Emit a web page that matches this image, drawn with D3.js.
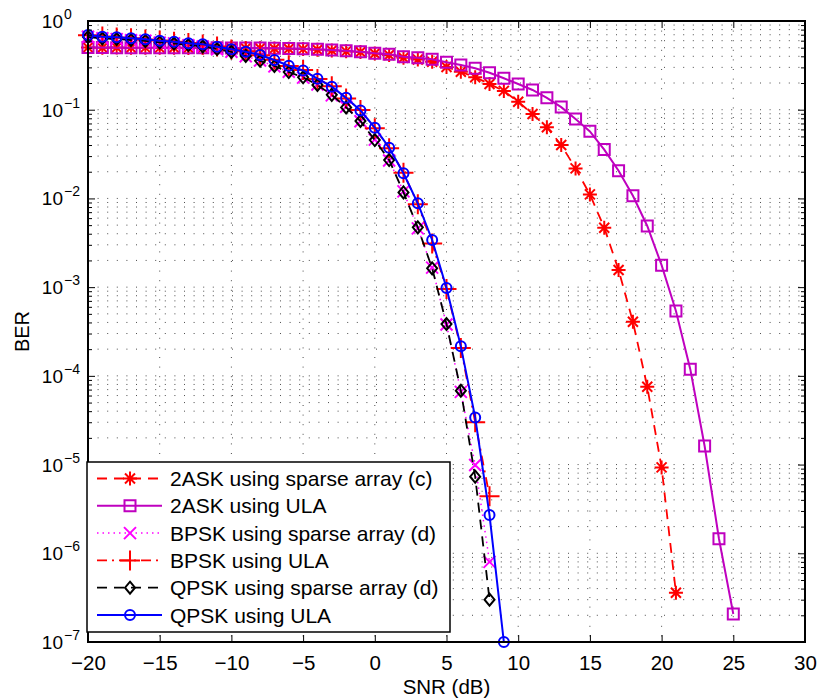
<!DOCTYPE html>
<html>
<head>
<meta charset="utf-8">
<script src="https://cdn.jsdelivr.net/npm/d3@7"></script>
<style>
  body { margin: 0; background: #fff; }
  svg { font-family: "Liberation Sans", Arial, Helvetica, sans-serif; }
</style>
</head>
<body>
<svg id="chart" width="820" height="700"></svg>
<script>
// ---- data ----
const snrAskSparse = d3.range(-20, 22);
const berAskSparse = [0.502, 0.500, 0.503, 0.499, 0.501, 0.498, 0.500, 0.497, 0.499, 0.496,
  0.497, 0.494, 0.493, 0.490, 0.486, 0.482, 0.475, 0.465, 0.455, 0.448,
  0.431, 0.414, 0.385, 0.368, 0.348, 0.303, 0.268, 0.232, 0.195, 0.163,
  0.123, 0.0895, 0.0634, 0.0400, 0.0218, 0.0111, 0.00468, 0.00156, 4.07e-4, 7.53e-5,
  9.29e-6, 3.59e-7];

const snrAskUla = d3.range(-20, 26);
const berAskUla = [0.504, 0.502, 0.501, 0.501, 0.500, 0.500, 0.499, 0.499, 0.498, 0.498,
  0.497, 0.496, 0.495, 0.492, 0.489, 0.486, 0.480, 0.471, 0.462, 0.451,
  0.433, 0.422, 0.396, 0.385, 0.370, 0.342, 0.319, 0.293, 0.261, 0.226,
  0.195, 0.167, 0.136, 0.107, 0.0785, 0.0570, 0.0355, 0.0205, 0.0107, 0.00489,
  0.00177, 5.38e-4, 1.19e-4, 1.62e-5, 1.46e-6, 2.07e-7];

const snrBpskSparse = d3.range(-20, 9);
const berBpskSparse = [0.665, 0.640, 0.625, 0.608, 0.598, 0.570, 0.560, 0.532, 0.518, 0.480,
  0.450, 0.400, 0.358, 0.308, 0.268, 0.230, 0.192, 0.145, 0.108, 0.0740,
  0.0460, 0.0268, 0.0120, 0.0046, 0.00166, 3.8e-4, 6.6e-5, 9.9e-6, 8.0e-7];

const snrBpskUla = d3.range(-20, 9);
const berBpskUla = [0.690, 0.668, 0.650, 0.640, 0.618, 0.603, 0.582, 0.565, 0.543, 0.515,
  0.478, 0.455, 0.410, 0.366, 0.310, 0.280, 0.222, 0.184, 0.134, 0.099,
  0.0620, 0.0368, 0.0195, 0.0086, 0.0031, 9.5e-4, 2.06e-4, 3.0e-5, 4.4e-6];

const snrQpskSparse = d3.range(-20, 9);
const berQpskSparse = [0.661, 0.635, 0.627, 0.611, 0.596, 0.573, 0.557, 0.536, 0.516, 0.483,
  0.448, 0.403, 0.356, 0.311, 0.266, 0.232, 0.190, 0.147, 0.106, 0.0746,
  0.0455, 0.0271, 0.0117, 0.00472, 0.00163, 3.84e-4, 6.8e-5, 7.3e-6, 3.0e-7];

const snrQpskUla = d3.range(-20, 10);
const berQpskUla = [0.695, 0.665, 0.655, 0.638, 0.622, 0.600, 0.585, 0.561, 0.546, 0.513,
  0.480, 0.451, 0.414, 0.363, 0.313, 0.277, 0.224, 0.182, 0.136, 0.098,
  0.0627, 0.0373, 0.0192, 0.00881, 0.0034, 9.8e-4, 2.15e-4, 3.4e-5, 2.7e-6, 1.0e-7];

const xTicks = [-20, -15, -10, -5, 0, 5, 10, 15, 20, 25, 30];
const yDecades = [1e-7, 1e-6, 1e-5, 1e-4, 1e-3, 1e-2, 1e-1, 1];
const yExponents = ["−7", "−6", "−5", "−4", "−3", "−2", "−1", "0"];

const series = [
  { name: "2ASK using sparse array (c)", x: snrAskSparse, y: berAskSparse, color: "#ff0000", dash: "10,7", width: 1.8, marker: "asterisk" },
  { name: "2ASK using ULA", x: snrAskUla, y: berAskUla, color: "#bf00bf", dash: null, width: 2, marker: "square" },
  { name: "BPSK using sparse array (d)", x: snrBpskSparse, y: berBpskSparse, color: "#ff00ff", dash: "1.5,4", width: 1.5, marker: "x" },
  { name: "BPSK using ULA", x: snrBpskUla, y: berBpskUla, color: "#ff0000", dash: "10,5,2,5", width: 1.8, marker: "plus" },
  { name: "QPSK using sparse array (d)", x: snrQpskSparse, y: berQpskSparse, color: "#000000", dash: "10,7", width: 1.8, marker: "diamond" },
  { name: "QPSK using ULA", x: snrQpskUla, y: berQpskUla, color: "#0000ff", dash: null, width: 2, marker: "circle" }
];

// ---- layout ----
const plotL = 88, plotR = 805, plotT = 21, plotB = 642;
const svg = d3.select('#chart');
const x = d3.scaleLinear().domain([-20, 30]).range([plotL, plotR]);
const y = d3.scaleLog().domain([1e-7, 1]).range([plotB, plotT]);

const minorY = [];
yDecades.slice(0, -1).forEach(d => { for (let k = 2; k <= 9; k++) minorY.push(d * k); });

// grid
const grid = svg.append('g').attr('stroke', '#222').attr('stroke-width', 1)
  .attr('stroke-dasharray', '1,8.6').attr('opacity', 0.8);
grid.selectAll('.gx').data(xTicks.slice(1, -1)).join('line')
  .attr('x1', d => x(d)).attr('x2', d => x(d)).attr('y1', plotT).attr('y2', plotB);
grid.selectAll('.gy').data(minorY.concat(yDecades.slice(1, -1))).join('line')
  .attr('x1', plotL).attr('x2', plotR).attr('y1', d => y(d)).attr('y2', d => y(d));

// markers
function markerPath(type) {
  switch (type) {
    case 'asterisk': { const a = 7, b = 5; return `M${-a},0H${a}M0,${-a}V${a}M${-b},${-b}L${b},${b}M${-b},${b}L${b},${-b}`; }
    case 'square': return 'M-5.5,-5.5H5.5V5.5H-5.5Z';
    case 'x': return 'M-6,-6L6,6M-6,6L6,-6';
    case 'plus': return 'M-10,0H10M0,-10V10';
    case 'diamond': return 'M0,-6L5,0L0,6L-5,0Z';
    case 'circle': return 'M5,0A5,5 0 1,1 -5,0A5,5 0 1,1 5,0Z';
  }
}

const line = d3.line().x(d => x(d[0])).y(d => y(d[1]));
series.forEach(s => {
  const pts = s.x.map((v, i) => [v, s.y[i]]);
  const g = svg.append('g');
  g.append('path').datum(pts).attr('d', line).attr('fill', 'none')
    .attr('stroke', s.color).attr('stroke-width', s.width)
    .attr('stroke-dasharray', s.dash);
  g.selectAll('path.m').data(pts).join('path').attr('class', 'm')
    .attr('transform', d => `translate(${x(d[0])},${y(d[1])})`)
    .attr('d', markerPath(s.marker)).attr('fill', 'none')
    .attr('stroke', s.color).attr('stroke-width', 2);
});

// axes
const axG = svg.append('g');
axG.append('g').attr('transform', `translate(0,${plotB})`)
  .call(d3.axisBottom(x).tickValues(xTicks).tickSizeInner(-7).tickSizeOuter(0).tickPadding(13));
axG.append('g').attr('transform', `translate(0,${plotT})`)
  .call(d3.axisTop(x).tickValues(xTicks).tickSizeInner(-7).tickSizeOuter(0).tickFormat(''));
axG.append('g').attr('transform', `translate(${plotL},0)`)
  .call(d3.axisLeft(y).tickValues(yDecades).tickSizeInner(-7).tickSizeOuter(0).tickFormat(''));
axG.append('g').attr('transform', `translate(${plotL},0)`)
  .call(d3.axisLeft(y).tickValues(minorY).tickSizeInner(-4).tickSizeOuter(0).tickFormat(''));
axG.append('g').attr('transform', `translate(${plotR},0)`)
  .call(d3.axisRight(y).tickValues(yDecades).tickSizeInner(-7).tickSizeOuter(0).tickFormat(''));
axG.append('g').attr('transform', `translate(${plotR},0)`)
  .call(d3.axisRight(y).tickValues(minorY).tickSizeInner(-4).tickSizeOuter(0).tickFormat(''));
axG.selectAll('.domain').remove();
axG.selectAll('.tick line').attr('stroke', '#000').attr('stroke-width', 1);
axG.selectAll('.tick text').attr('font-size', 20.5).attr('fill', '#000')
  .attr('font-family', '"Liberation Sans", Arial, sans-serif');

svg.append('rect').attr('x', plotL).attr('y', plotT).attr('width', plotR - plotL).attr('height', plotB - plotT)
  .attr('fill', 'none').attr('stroke', '#000').attr('stroke-width', 2);

// y tick labels 10^n
const yl = svg.append('g');
yDecades.forEach((d, i) => {
  yl.append('text').attr('x', 63).attr('y', y(d) + 7).attr('text-anchor', 'end')
    .attr('font-size', 19).text('10');
  yl.append('text').attr('x', 64).attr('y', y(d) - 2)
    .attr('font-size', 14).text(yExponents[i]);
});

// axis titles
svg.append('text').attr('x', (plotL + plotR) / 2).attr('y', 694).attr('text-anchor', 'middle')
  .attr('font-size', 20.5).text('SNR (dB)');
svg.append('text').attr('transform', `translate(29,${(plotT + plotB) / 2}) rotate(-90)`)
  .attr('text-anchor', 'middle').attr('font-size', 20).text('BER');

// legend
const lg = svg.append('g');
lg.append('rect').attr('x', 87).attr('y', 462).attr('width', 363).attr('height', 170)
  .attr('fill', '#fff').attr('stroke', '#000').attr('stroke-width', 1.5);
const rowY = d3.scaleLinear().domain([0, 5]).range([478.5, 615]);
series.forEach((s, i) => {
  const cy = rowY(i);
  lg.append('line').attr('x1', 97).attr('x2', 162).attr('y1', cy).attr('y2', cy)
    .attr('stroke', s.color).attr('stroke-width', s.width).attr('stroke-dasharray', s.dash);
  lg.append('path').attr('transform', `translate(130,${cy})`).attr('d', markerPath(s.marker))
    .attr('fill', 'none').attr('stroke', s.color).attr('stroke-width', 2);
  lg.append('text').attr('x', 170).attr('y', cy + 7.5).attr('font-size', 21).text(s.name);
});
</script>
</body>
</html>
